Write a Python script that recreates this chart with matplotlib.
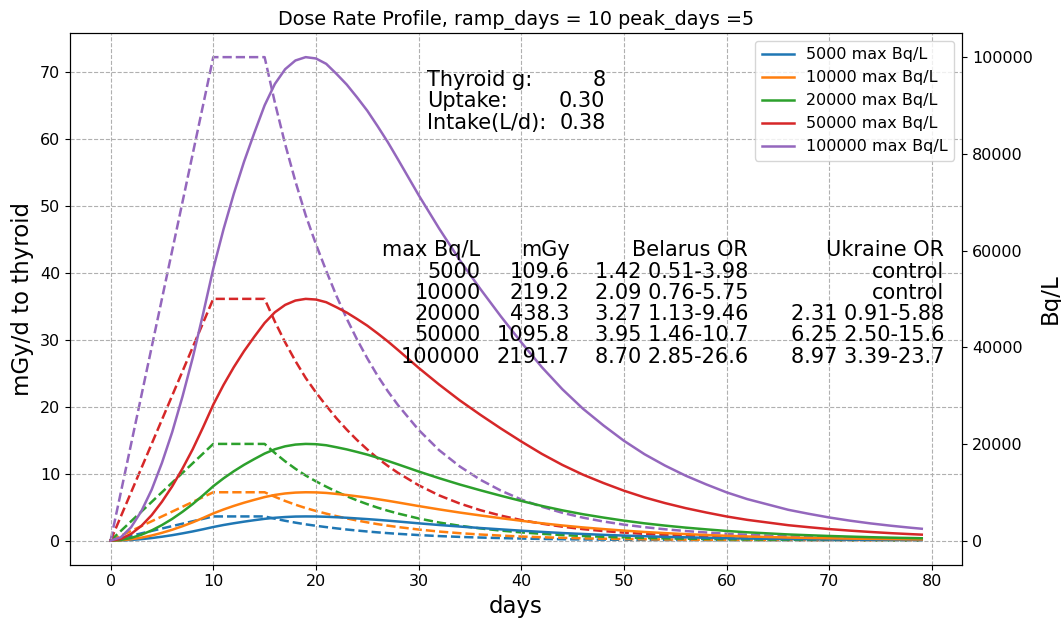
import matplotlib
matplotlib.use("Agg")
import matplotlib.pyplot as plt

# max milk concentration per scenario (Bq/L)
max_bq = [5000, 10000, 20000, 50000, 100000]
labels = [f"{m} max Bq/L" for m in max_bq]
colors = ["C0", "C1", "C2", "C3", "C4"]

# dose rate (mGy/d to thyroid)
dose_days = list(range(0, 29)) + list(range(30, 79, 2)) + [79]
dose_5k = [0, 0.03, 0.1, 0.22, 0.38, 0.58, 0.81, 1.08, 1.37, 1.69, 2.03, 2.33, 2.59, 2.83,
           3.05, 3.25, 3.41, 3.52, 3.59, 3.61, 3.6, 3.56, 3.49, 3.41, 3.31, 3.21, 3.1, 2.98,
           2.85, 2.58, 2.33, 2.1, 1.88, 1.68, 1.48, 1.3, 1.13, 0.99, 0.86, 0.75, 0.65, 0.56,
           0.49, 0.42, 0.36, 0.31, 0.27, 0.23, 0.2, 0.17, 0.15, 0.13, 0.11, 0.1, 0.09]
dose_10k = [0, 0.05, 0.2, 0.44, 0.76, 1.16, 1.62, 2.15, 2.73, 3.38, 4.06, 4.65, 5.18, 5.66,
            6.09, 6.5, 6.82, 7.04, 7.17, 7.22, 7.2, 7.12, 6.97, 6.81, 6.62, 6.42, 6.19, 5.95,
            5.69, 5.16, 4.66, 4.19, 3.76, 3.35, 2.96, 2.59, 2.26, 1.97, 1.72, 1.49, 1.29, 1.12,
            0.97, 0.84, 0.72, 0.62, 0.54, 0.46, 0.4, 0.35, 0.3, 0.26, 0.22, 0.19, 0.18]
dose_20k = [0, 0.1, 0.4, 0.88, 1.52, 2.32, 3.24, 4.3, 5.46, 6.76, 8.12, 9.3, 10.36, 11.32,
            12.18, 13.0, 13.64, 14.08, 14.34, 14.44, 14.4, 14.24, 13.94, 13.62, 13.24, 12.84,
            12.38, 11.9, 11.38, 10.32, 9.32, 8.38, 7.52, 6.7, 5.92, 5.18, 4.52, 3.94, 3.44,
            2.98, 2.58, 2.24, 1.94, 1.68, 1.44, 1.24, 1.08, 0.92, 0.8, 0.69, 0.6, 0.51, 0.44,
            0.38, 0.35]
dose_50k = [0, 0.25, 1.0, 2.2, 3.8, 5.8, 8.1, 10.75, 13.65, 16.9, 20.3, 23.25, 25.9, 28.3,
            30.45, 32.5, 34.1, 35.2, 35.85, 36.1, 36.0, 35.6, 34.85, 34.05, 33.1, 32.1, 30.95,
            29.75, 28.45, 25.8, 23.3, 20.95, 18.8, 16.75, 14.8, 12.95, 11.3, 9.85, 8.6, 7.45,
            6.45, 5.6, 4.85, 4.2, 3.6, 3.1, 2.7, 2.3, 2.0, 1.72, 1.49, 1.29, 1.11, 0.96, 0.89]
dose_100k = [0, 0.5, 2.0, 4.4, 7.6, 11.6, 16.2, 21.5, 27.3, 33.8, 40.6, 46.5, 51.8, 56.6,
             60.9, 65.0, 68.2, 70.4, 71.7, 72.2, 72.0, 71.2, 69.7, 68.1, 66.2, 64.2, 61.9,
             59.5, 56.9, 51.6, 46.6, 41.9, 37.6, 33.5, 29.6, 25.9, 22.6, 19.7, 17.2, 14.9,
             12.9, 11.2, 9.7, 8.4, 7.2, 6.2, 5.4, 4.6, 4.0, 3.45, 2.98, 2.57, 2.22, 1.91, 1.77]

# concentration (Bq/L)
conc_days = [0, 10] + list(range(15, 29)) + list(range(30, 79, 2)) + [79]
conc_5k = [0, 5000, 5000, 4530, 4100, 3715, 3365, 3065, 2790, 2530, 2295, 2080, 1885, 1705,
           1545, 1400, 1145, 935, 768, 630, 518, 425, 350, 288, 238, 198, 165, 139, 117, 99,
           84, 71, 61, 52, 44, 38, 32, 28, 24, 20, 17, 16]
conc_10k = [0, 10000, 10000, 9060, 8200, 7430, 6730, 6130, 5580, 5060, 4590, 4160, 3770,
            3410, 3090, 2800, 2290, 1870, 1535, 1260, 1035, 850, 700, 575, 475, 395, 330,
            278, 234, 198, 168, 142, 121, 103, 88, 75, 64, 55, 47, 40, 34, 32]
conc_20k = [0, 20000, 20000, 18120, 16400, 14860, 13460, 12260, 11160, 10120, 9180, 8320,
            7540, 6820, 6180, 5600, 4580, 3740, 3070, 2520, 2070, 1700, 1400, 1150, 950, 790,
            660, 556, 468, 396, 336, 284, 242, 206, 176, 150, 128, 110, 94, 80, 68, 64]
conc_50k = [0, 50000, 50000, 45300, 41000, 37150, 33650, 30650, 27900, 25300, 22950, 20800,
            18850, 17050, 15450, 14000, 11450, 9350, 7675, 6300, 5175, 4250, 3500, 2875, 2375,
            1975, 1650, 1390, 1170, 990, 840, 710, 605, 515, 440, 375, 320, 275, 235, 200,
            170, 160]
conc_100k = [0, 100000, 100000, 90600, 82000, 74300, 67300, 61300, 55800, 50600, 45900,
             41600, 37700, 34100, 30900, 28000, 22900, 18700, 15350, 12600, 10350, 8500,
             7000, 5750, 4750, 3950, 3300, 2780, 2340, 1980, 1680, 1420, 1210, 1030, 880,
             750, 640, 550, 470, 400, 340, 320]

dose_series = [dose_5k, dose_10k, dose_20k, dose_50k, dose_100k]
conc_series = [conc_5k, conc_10k, conc_20k, conc_50k, conc_100k]

# summary table
mgy = ["109.6", "219.2", "438.3", "1095.8", "2191.7"]
belarus = ["1.42 0.51-3.98", "2.09 0.76-5.75", "3.27 1.13-9.46", "3.95 1.46-10.7", "8.70 2.85-26.6"]
ukraine = ["control", "control", "2.31 0.91-5.88", "6.25 2.50-15.6", "8.97 3.39-23.7"]

fig, ax = plt.subplots(figsize=(10.61, 6.22), dpi=100)
fig.subplots_adjust(left=0.066, right=0.907, top=0.947, bottom=0.092)
ax2 = ax.twinx()

for d, c, col, lab in zip(dose_series, conc_series, colors, labels):
    ax.plot(dose_days, d, color=col, lw=1.8, label=lab)
    ax2.plot(conc_days, c, color=col, lw=1.8, ls="--")

ax.set_xlim(-3.95, 82.95)
ax.grid(True, ls="--", color="#b0b0b0")
ax.tick_params(labelsize=11.5)
ax2.tick_params(labelsize=11.5)
ax.set_xlabel("days", fontsize=16.5)
ax.set_ylabel("mGy/d to thyroid", fontsize=16.5)
ax2.set_ylabel("Bq/L", fontsize=16.5)
ax.set_title("Dose Rate Profile, ramp_days = 10 peak_days =5", fontsize=13.8)

ax.legend(loc="upper right", fontsize=11.5)
ax.set_zorder(ax2.get_zorder() + 1)
ax.patch.set_visible(False)

tf = 15
ls = 1.08
ax.text(0.40, 0.93, "Thyroid g:\nUptake:\nIntake(L/d):", transform=ax.transAxes,
        ha="left", va="top", fontsize=tf, linespacing=ls)
ax.text(0.60, 0.93, "8\n0.30\n0.38", transform=ax.transAxes, ha="right", va="top",
        fontsize=tf, multialignment="right", linespacing=ls)

cols = [
    ("max Bq/L\n" + "\n".join(str(m) for m in max_bq), 0.46),
    ("mGy\n" + "\n".join(mgy), 0.56),
    ("Belarus OR\n" + "\n".join(belarus), 0.76),
    ("Ukraine OR\n" + "\n".join(ukraine), 0.98),
]
for txt, xpos in cols:
    ax.text(xpos, 0.61, txt, transform=ax.transAxes, ha="right", va="top",
            fontsize=tf, multialignment="right", linespacing=ls)

fig.savefig("out.png", dpi=100)
